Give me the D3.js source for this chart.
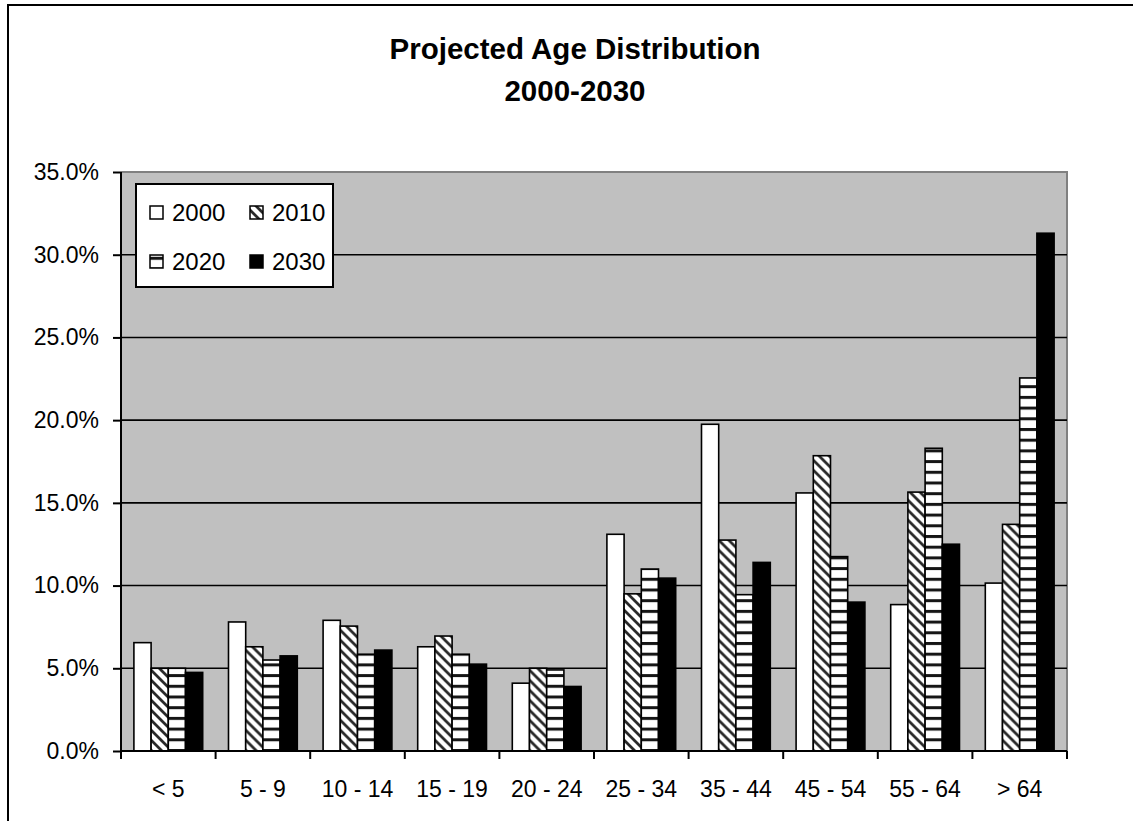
<!DOCTYPE html>
<html>
<head>
<meta charset="utf-8">
<script src="https://cdn.jsdelivr.net/npm/d3@7"></script>
<style>
  html, body { margin: 0; padding: 0; background: #fff; }
  svg { display: block; }
  text { font-family: "Liberation Sans", Arial, sans-serif; fill: #000; }
</style>
</head>
<body>
<svg id="chart" width="1133" height="821"></svg>
<script>
// ---- Data ----
const categories = ["< 5", "5 - 9", "10 - 14", "15 - 19", "20 - 24", "25 - 34", "35 - 44", "45 - 54", "55 - 64", "> 64"];
const seriesNames = ["2000", "2010", "2020", "2030"];
const values2000 = [6.55, 7.8, 7.9, 6.3, 4.1, 13.1, 19.75, 15.6, 8.85, 10.15];
const values2010 = [5.0, 6.3, 7.55, 6.95, 5.0, 9.5, 12.75, 17.85, 15.65, 13.7];
const values2020 = [5.0, 5.5, 5.85, 5.85, 4.9, 11.0, 9.45, 11.75, 18.3, 22.55];
const values2030 = [4.75, 5.75, 6.1, 5.25, 3.9, 10.45, 11.4, 9.0, 12.5, 31.3];
const seriesValues = [values2000, values2010, values2020, values2030];
const yTicks = [0, 5, 10, 15, 20, 25, 30, 35];
const titleLines = ["Projected Age Distribution", "2000-2030"];

// ---- Layout ----
const svg = d3.select("#chart");
const plot = { left: 121, right: 1067, top: 172, bottom: 751 };

// Outer frame (extends beyond the visible right & bottom edges)
svg.append("rect")
  .attr("x", 8).attr("y", 5).attr("width", 1160).attr("height", 840)
  .attr("fill", "#fff").attr("stroke", "#000").attr("stroke-width", 2);

// Patterns
const defs = svg.append("defs");
const hatch = defs.append("pattern").attr("id", "hatch")
  .attr("patternUnits", "userSpaceOnUse").attr("width", 10).attr("height", 10);
hatch.append("rect").attr("width", 10).attr("height", 10).attr("fill", "#fff");
hatch.append("path").attr("d", "M-5,-5 L15,15 M-5,5 L5,15 M5,-5 L15,5")
  .attr("stroke", "#2a2a2a").attr("stroke-width", 2.8);

const horiz = defs.append("pattern").attr("id", "horiz")
  .attr("patternUnits", "userSpaceOnUse").attr("width", 10).attr("height", 10.7);
horiz.append("rect").attr("width", 10).attr("height", 10.7).attr("fill", "#fff");
horiz.append("rect").attr("y", 0).attr("width", 10).attr("height", 3).attr("fill", "#151515");

const fills = ["#fff", "url(#hatch)", "url(#horiz)", "#000"];

// Scales
const x0 = d3.scaleBand().domain(categories).range([plot.left, plot.right]).padding(0);
const bw = x0.bandwidth();
const barW = bw / 5.5;
const x1 = d3.scaleBand().domain(seriesNames)
  .range([(bw - 4 * barW) / 2, bw - (bw - 4 * barW) / 2]).padding(0);
const y = d3.scaleLinear().domain([0, 35]).range([plot.bottom, plot.top]);

// Plot background
svg.append("rect")
  .attr("x", plot.left).attr("y", plot.top)
  .attr("width", plot.right - plot.left).attr("height", plot.bottom - plot.top)
  .attr("fill", "#c0c0c0");
// top & right gray border
svg.append("path")
  .attr("d", `M${plot.left},${plot.top} H${plot.right} V${plot.bottom}`)
  .attr("fill", "none").attr("stroke", "#808080").attr("stroke-width", 2);

// Gridlines
svg.append("g").selectAll("line")
  .data(yTicks.filter(d => d > 0 && d < 35))
  .join("line")
  .attr("x1", plot.left).attr("x2", plot.right)
  .attr("y1", d => y(d)).attr("y2", d => y(d))
  .attr("stroke", "#000").attr("stroke-width", 1.6);

// Bars
const groups = svg.append("g").selectAll("g")
  .data(categories)
  .join("g")
  .attr("transform", d => `translate(${x0(d)},0)`);

groups.selectAll("rect")
  .data((c, i) => seriesNames.map((s, j) => ({ s, j, v: seriesValues[j][i] })))
  .join("rect")
  .attr("x", d => x1(d.s))
  .attr("y", d => y(d.v))
  .attr("width", x1.bandwidth())
  .attr("height", d => y(0) - y(d.v))
  .attr("fill", d => fills[d.j])
  .attr("stroke", "#000")
  .attr("stroke-width", 1.6);

// Y axis
const yAxis = d3.axisLeft(y).tickValues(yTicks)
  .tickFormat(d => d.toFixed(1) + "%").tickSize(8).tickPadding(14);
const gy = svg.append("g").attr("transform", `translate(${plot.left},0)`).call(yAxis);
gy.select(".domain").attr("stroke", "#000").attr("stroke-width", 2)
  .attr("d", `M0,${plot.top}V${plot.bottom}`);
gy.selectAll(".tick line").attr("stroke", "#000").attr("stroke-width", 2);
gy.selectAll(".tick text").style("font-size", "23px").style("font-family", '"Liberation Sans", Arial, sans-serif').attr("fill", "#000");

// X axis
const xAxis = d3.axisBottom(x0).tickSize(0).tickPadding(30);
const gx = svg.append("g").attr("transform", `translate(0,${plot.bottom})`).call(xAxis);
gx.select(".domain").attr("stroke", "#000").attr("stroke-width", 2)
  .attr("d", `M${plot.left},0H${plot.right}`);
gx.selectAll(".tick text").style("font-size", "23px").style("font-family", '"Liberation Sans", Arial, sans-serif').attr("fill", "#000");
// category boundary tick marks
const boundaries = categories.map(c => x0(c)).concat([plot.right]);
gx.append("g").selectAll("line").data(boundaries).join("line")
  .attr("x1", d => d).attr("x2", d => d).attr("y1", 0).attr("y2", 8)
  .attr("stroke", "#000").attr("stroke-width", 2);

// Legend
const legend = svg.append("g");
legend.append("rect")
  .attr("x", 136).attr("y", 184).attr("width", 197).attr("height", 103)
  .attr("fill", "#fff").attr("stroke", "#000").attr("stroke-width", 2);
const legPos = [[150, 206], [250, 206], [150, 255], [250, 255]];
seriesNames.forEach((s, j) => {
  const [lx, ly] = legPos[j];
  legend.append("rect")
    .attr("x", lx).attr("y", ly).attr("width", 13).attr("height", 13)
    .attr("fill", fills[j]).attr("stroke", "#000").attr("stroke-width", 1.5);
  legend.append("text")
    .attr("x", lx + 22).attr("y", ly + 15)
    .style("font-size", "24px")
    .text(s);
});

// Title
svg.append("g").selectAll("text").data(titleLines).join("text")
  .attr("x", 575).attr("y", (d, i) => 59 + i * 42)
  .attr("text-anchor", "middle")
  .style("font-size", "29.5px").style("font-weight", "bold")
  .text(d => d);
</script>
</body>
</html>
